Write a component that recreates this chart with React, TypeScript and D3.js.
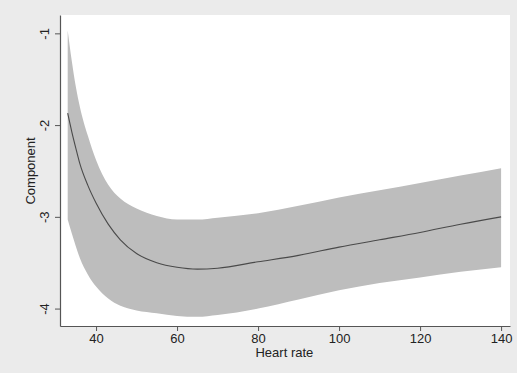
import * as d3 from "d3";
import { useEffect, useRef } from "react";

// heart rate grid and the fitted component with its confidence band
const heartRate = [33, 34, 35, 36, 38, 40, 43, 46, 50, 55, 60, 65, 70, 80, 90, 100, 110, 120, 130, 140];
const fitValues = [-1.87, -2.07, -2.25, -2.42, -2.66, -2.85, -3.08, -3.25, -3.4, -3.5, -3.55, -3.57, -3.56, -3.49, -3.42, -3.33, -3.25, -3.17, -3.08, -3.0];
const upperValues = [-0.97, -1.3, -1.58, -1.8, -2.12, -2.38, -2.65, -2.8, -2.91, -2.99, -3.03, -3.03, -3.01, -2.96, -2.88, -2.79, -2.71, -2.63, -2.55, -2.47];
const lowerValues = [-3.03, -3.18, -3.32, -3.45, -3.63, -3.76, -3.89, -3.97, -4.02, -4.05, -4.08, -4.09, -4.07, -4.0, -3.9, -3.8, -3.72, -3.66, -3.6, -3.55];

const xTicks = [40, 60, 80, 100, 120, 140];
const yTicks = [-1, -2, -3, -4];

type Row = { hr: number; fit: number; lo: number; hi: number };

export default function App() {
  const ref = useRef<SVGSVGElement>(null);

  useEffect(() => {
    if (!ref.current) return;

    const width = 517;
    const height = 373;
    const margin = { top: 15, right: 7, bottom: 47, left: 60 };
    const innerWidth = width - margin.left - margin.right;
    const innerHeight = height - margin.top - margin.bottom;

    const svg = d3.select(ref.current);
    svg.selectAll("*").remove();

    // outer background
    svg.append("rect").attr("width", width).attr("height", height).attr("fill", "#ebebeb");

    const g = svg.append("g").attr("transform", `translate(${margin.left},${margin.top})`);

    g.append("rect").attr("width", innerWidth).attr("height", innerHeight).attr("fill", "#ffffff");

    const data: Row[] = heartRate.map((hr, i) => ({
      hr,
      fit: fitValues[i],
      lo: lowerValues[i],
      hi: upperValues[i],
    }));

    const x = d3.scaleLinear().domain([31.1, 142.2]).range([0, innerWidth]);
    const y = d3.scaleLinear().domain([-0.8, -4.19]).range([0, innerHeight]);

    // -----------------------------
    // Confidence band
    const area = d3
      .area<Row>()
      .x((d) => x(d.hr))
      .y0((d) => y(d.lo))
      .y1((d) => y(d.hi))
      .curve(d3.curveMonotoneX);

    g.append("path").datum(data).attr("d", area).attr("fill", "#bdbdbd");

    // Fitted line
    const line = d3
      .line<Row>()
      .x((d) => x(d.hr))
      .y((d) => y(d.fit))
      .curve(d3.curveMonotoneX);

    g.append("path")
      .datum(data)
      .attr("d", line)
      .attr("fill", "none")
      .attr("stroke", "#4a4a4a")
      .attr("stroke-width", 1.1);

    // -----------------------------
    // Axes
    const xAxis = g
      .append("g")
      .attr("transform", `translate(0,${innerHeight})`)
      .call(d3.axisBottom(x).tickValues(xTicks).tickSize(5).tickSizeOuter(0).tickPadding(3));

    const yAxis = g
      .append("g")
      .call(
        d3
          .axisLeft(y)
          .tickValues(yTicks)
          .tickFormat((d) => String(d))
          .tickSize(5)
          .tickSizeOuter(0)
          .tickPadding(3)
      );

    [xAxis, yAxis].forEach((ax) => {
      ax.select(".domain").attr("stroke", "#555").attr("stroke-width", 1.2);
      ax.selectAll(".tick line").attr("stroke", "#555");
      ax.selectAll("text")
        .style("font-size", "13px")
        .style("font-family", "Liberation Sans, Arial, sans-serif")
        .attr("fill", "#222");
    });

    // Stata style vertical y labels
    yAxis
      .selectAll<SVGTextElement, number>(".tick text")
      .attr("transform", "rotate(-90)")
      .attr("x", 0)
      .attr("y", -11)
      .attr("dy", "0")
      .style("text-anchor", "middle");

    // -----------------------------
    // Axis titles
    svg
      .append("text")
      .attr("x", margin.left + x(86.5))
      .attr("y", 357)
      .style("text-anchor", "middle")
      .style("font-size", "13px")
      .style("font-family", "Liberation Sans, Arial, sans-serif")
      .attr("fill", "#222")
      .text("Heart rate");

    svg
      .append("text")
      .attr("transform", `translate(35,${margin.top + y(-2.5)}) rotate(-90)`)
      .style("text-anchor", "middle")
      .style("font-size", "13px")
      .style("font-family", "Liberation Sans, Arial, sans-serif")
      .attr("fill", "#222")
      .text("Component");
  }, []);

  return (
    <svg
      ref={ref}
      width={517}
      height={373}
      style={{ position: "absolute", left: 0, top: 0 }}
    />
  );
}
